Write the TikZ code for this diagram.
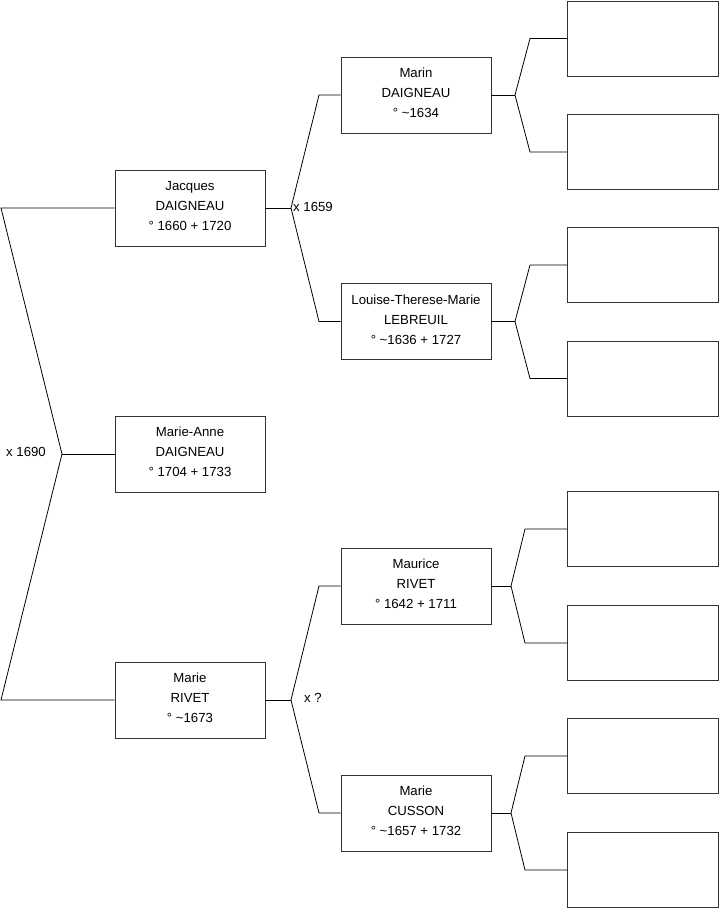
\documentclass[tikz,border=0pt]{standalone}
\usepackage{fontspec}
\setmainfont{Liberation Sans}
\begin{document}
\begin{tikzpicture}[x=1pt,y=-1pt,
  person/.style={draw=black!80,line width=0.8pt,minimum width=150pt,minimum height=76pt,inner sep=0pt,
    label={[align=center,font=\fontsize{13.2}{20}\selectfont,inner sep=0pt,yshift=2pt]center:#1}},
  empty/.style={draw=black!80,line width=0.8pt,minimum width=151pt,minimum height=75pt,inner sep=0pt},
  conn/.style={draw=black,line width=0.8pt},
  lbl/.style={font=\fontsize{13.2}{15}\selectfont,inner sep=0pt}]
\useasboundingbox (0,0) rectangle (719,908);
% generation 1
\node[person={Jacques\\DAIGNEAU\\° 1660 + 1720}] (jacques) at (190,208) {};
\node[person={Marie-Anne\\DAIGNEAU\\° 1704 + 1733}] (marieanne) at (190,454) {};
\node[person={Marie\\RIVET\\° \textasciitilde1673}] (mrivet) at (190,700) {};
% generation 2
\node[person={Marin\\DAIGNEAU\\° \textasciitilde1634}] (marin) at (416,95) {};
\node[person={Louise-Therese-Marie\\LEBREUIL\\° \textasciitilde1636 + 1727}] (louise) at (416,321.5) {};
\node[person={Maurice\\RIVET\\° 1642 + 1711}] (maurice) at (416,586) {};
\node[person={Marie\\CUSSON\\° \textasciitilde1657 + 1732}] (cusson) at (416,813) {};
% generation 3
\node[empty] (g1) at (643,38.5) {};
\node[empty] (g2) at (643,152) {};
\node[empty] (g3) at (643,265) {};
\node[empty] (g4) at (643,378.5) {};
\node[empty] (g5) at (643,529) {};
\node[empty] (g6) at (643,643) {};
\node[empty] (g7) at (643,756) {};
\node[empty] (g8) at (643,870) {};
% fork coordinates
\coordinate (f0) at (62,454);
\coordinate (a0) at (1,208);
\coordinate (b0) at (1,700);
\coordinate (f1) at (291,208);
\coordinate (a1) at (319,95);
\coordinate (b1) at (319,321.5);
\coordinate (f2) at (291,700);
\coordinate (a2) at (319,586);
\coordinate (b2) at (319,813);
\coordinate (f3) at (515,95);
\coordinate (a3) at (530,38.5);
\coordinate (b3) at (530,152);
\coordinate (f4) at (515,321.5);
\coordinate (a4) at (530,265);
\coordinate (b4) at (530,378.5);
\coordinate (f5) at (511,586);
\coordinate (a5) at (525,529);
\coordinate (b5) at (525,643);
\coordinate (f6) at (511,813);
\coordinate (a6) at (525,756);
\coordinate (b6) at (525,870);
% connectors
\draw[conn] (jacques.west) -- (a0) -- (f0) -- (b0) -- (mrivet.west);
\draw[conn] (f0) -- (marieanne.west);
\draw[conn] (marin.west) -- (a1) -- (f1) -- (b1) -- (louise.west);
\draw[conn] (f1) -- (jacques.east);
\draw[conn] (maurice.west) -- (a2) -- (f2) -- (b2) -- (cusson.west);
\draw[conn] (f2) -- (mrivet.east);
\draw[conn] (g1.west) -- (a3) -- (f3) -- (b3) -- (g2.west);
\draw[conn] (f3) -- (marin.east);
\draw[conn] (g3.west) -- (a4) -- (f4) -- (b4) -- (g4.west);
\draw[conn] (f4) -- (louise.east);
\draw[conn] (g5.west) -- (a5) -- (f5) -- (b5) -- (g6.west);
\draw[conn] (f5) -- (maurice.east);
\draw[conn] (g7.west) -- (a6) -- (f6) -- (b6) -- (g8.west);
\draw[conn] (f6) -- (cusson.east);
% marriage labels
\node[lbl,anchor=east] (m0) at (46,452) {x 1690};
\node[lbl,anchor=west] (m1) at (293,207) {x 1659};
\node[lbl,anchor=west] (m2) at (304,698) {x ?};
\end{tikzpicture}
\end{document}
